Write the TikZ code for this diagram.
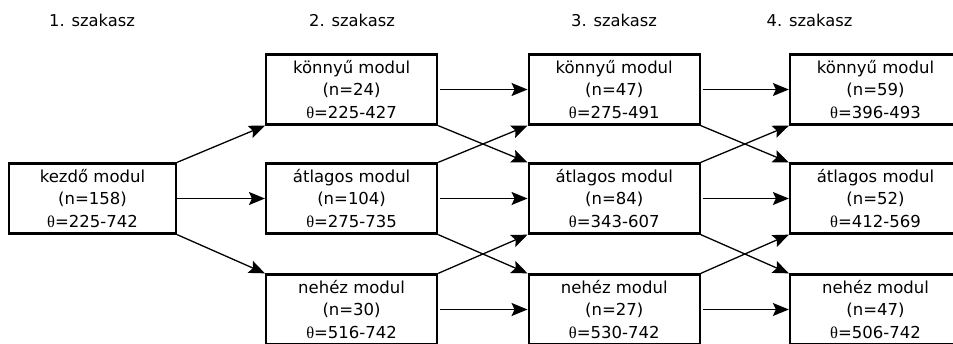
\documentclass[tikz,border=0pt]{standalone}
\usepackage{fontspec}
\setmainfont{DejaVu Sans}
\newfontfamily\grk{Liberation Serif}
\usetikzlibrary{arrows.meta}
\begin{document}
\begin{tikzpicture}[x=1pt,y=-1pt,
  box/.style={draw,line width=2.3pt,minimum width=171pt,minimum height=70pt,inner sep=0pt,align=center,
              font=\fontsize{16.5pt}{22.5pt}\selectfont},
  hdr/.style={anchor=base,font=\fontsize{16.3pt}{20pt}\selectfont},
  arr/.style={-{Stealth[length=16pt,width=13pt,inset=3pt]},line width=1.3pt},
  harr/.style={arr,shorten <=2pt}]
\useasboundingbox (0,0) rectangle (953,343);
% headers
\node[hdr] (h1) at (92,26) {1. szakasz};
\node[hdr] (h2) at (352,26) {2. szakasz};
\node[hdr] (h3) at (614,26) {3. szakasz};
\node[hdr] (h4) at (809.5,26) {4. szakasz};
% stage 1
\node[box,minimum width=167pt] (s) at (92.5,198.5) {kezdő modul\\(n=158)\\{\grk θ}=225-742};
% stage 2
\node[box] (k2) at (351.6,89.5) {könnyű modul\\(n=24)\\{\grk θ}=225-427};
\node[box] (a2) at (351.6,198.5) {átlagos modul\\(n=104)\\{\grk θ}=275-735};
\node[box] (n2) at (351.6,309.5) {nehéz modul\\(n=30)\\{\grk θ}=516-742};
% stage 3
\node[box] (k3) at (614.2,89.5) {könnyű modul\\(n=47)\\{\grk θ}=275-491};
\node[box] (a3) at (614.2,198.5) {átlagos modul\\(n=84)\\{\grk θ}=343-607};
\node[box] (n3) at (614.2,309.5) {nehéz modul\\(n=27)\\{\grk θ}=530-742};
% stage 4
\node[box] (k4) at (875.5,89.5) {könnyű modul\\(n=59)\\{\grk θ}=396-493};
\node[box] (a4) at (875.5,198.5) {átlagos modul\\(n=52)\\{\grk θ}=412-569};
\node[box] (n4) at (875.5,309.5) {nehéz modul\\(n=47)\\{\grk θ}=506-742};
% arrows stage 1 -> 2
\draw[arr] (s.north east) -- (k2.south west);
\draw[arr] (s.east) -- (a2.west);
\draw[arr] (s.south east) -- (n2.north west);
% arrows stage 2 -> 3
\draw[harr] (k2.east) -- (k3.west);
\draw[arr] (k2.south east) -- (a3.north west);
\draw[arr] (a2.north east) -- (k3.south west);
\draw[harr] (a2.east) -- (a3.west);
\draw[arr] (a2.south east) -- (n3.north west);
\draw[arr] (n2.north east) -- (a3.south west);
\draw[harr] (n2.east) -- (n3.west);
% arrows stage 3 -> 4
\draw[harr] (k3.east) -- (k4.west);
\draw[arr] (k3.south east) -- (a4.north west);
\draw[arr] (a3.north east) -- (k4.south west);
\draw[harr] (a3.east) -- (a4.west);
\draw[arr] (a3.south east) -- (n4.north west);
\draw[arr] (n3.north east) -- (a4.south west);
\draw[harr] (n3.east) -- (n4.west);
\end{tikzpicture}
\end{document}
